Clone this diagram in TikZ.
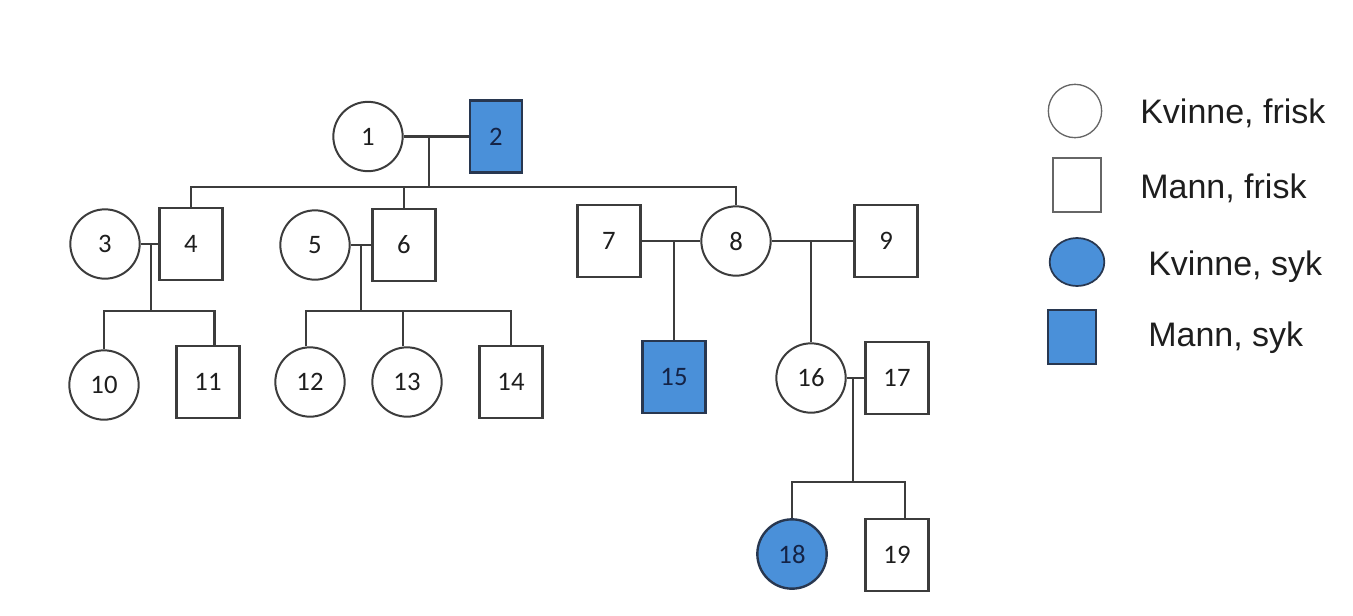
\documentclass[tikz,border=0pt]{standalone}
\usepackage{fontspec}
\setmainfont{Liberation Sans}
\newfontfamily\numfont{Carlito}
\usetikzlibrary{shapes.geometric}
\definecolor{linec}{RGB}{60,60,60}
\definecolor{sickfill}{RGB}{74,144,217}
\definecolor{sickdraw}{RGB}{40,55,80}
\definecolor{sicktext}{RGB}{20,35,70}
\definecolor{txtc}{RGB}{30,30,30}
\begin{document}
\begin{tikzpicture}[x=0.75pt,y=-0.75pt,
  fem/.style={circle, draw=linec, line width=1.5pt, minimum size=52pt, inner sep=0pt, font=\numfont\fontsize{20}{23}\selectfont, text=txtc},
  mal/.style={rectangle, draw=linec, line width=1.8pt, minimum width=47pt, minimum height=54pt, inner sep=0pt, font=\numfont\fontsize{20}{23}\selectfont, text=txtc},
  sick/.style={fill=sickfill, draw=sickdraw, text=sicktext},
  conn/.style={draw=linec, line width=1.8pt},
  legtext/.style={anchor=west, font=\fontsize{25.5}{29}\selectfont, text=txtc, inner sep=0pt}
]
\useasboundingbox (0,0) rectangle (1353,615);

% generation I
\node[fem] (n1) at (368,136.5) {1};
\node[mal, sick, minimum width=39pt] (n2) at (496,136.5) {2};
% generation II
\node[fem] (n3) at (105,244) {3};
\node[mal] (n4) at (191,244) {4};
\node[fem] (n5) at (315,245) {5};
\node[mal] (n6) at (404,245) {6};
\node[mal] (n7) at (609,241) {7};
\node[fem] (n8) at (736,241) {8};
\node[mal] (n9) at (886,241) {9};
% generation III
\node[fem] (n10) at (104,385) {10};
\node[mal] (n11) at (208,382) {11};
\node[fem] (n12) at (310,382) {12};
\node[fem] (n13) at (407,382) {13};
\node[mal] (n14) at (511,382) {14};
\node[mal, sick] (n15) at (674,377) {15};
\node[fem] (n16) at (811,378) {16};
\node[mal] (n17) at (897,378) {17};
% generation IV
\node[fem, sick, line width=1.8pt] (n18) at (792,554) {18};
\node[mal] (n19) at (897,555) {19};

% junctions
\coordinate (j12) at (429,136.5);
\coordinate (s12) at (429,187);
\coordinate (j34) at (151,244);
\coordinate (s34) at (151,311);
\coordinate (j56) at (361,245);
\coordinate (s56) at (361,311);
\coordinate (j78) at (674,241);
\coordinate (j89) at (811,241);
\coordinate (j1617) at (853,378);
\coordinate (s1617) at (853,482);

% family 1-2
\draw[conn] (n1.east) -- (n2.west);
\draw[conn] (j12) -- (s12);
\draw[conn] (n4.north) -- (n4.north |- s12) -- (n8.north |- s12) -- (n8.north);
\draw[conn] (n6.north |- s12) -- (n6.north);
% family 3-4
\draw[conn] (n3.east) -- (n4.west);
\draw[conn] (j34) -- (s34);
\draw[conn] (n10.north) -- (n10.north |- s34) -- ([xshift=5]n11.north |- s34) -- ([xshift=5]n11.north);
% family 5-6
\draw[conn] (n5.east) -- (n6.west);
\draw[conn] (j56) -- (s56);
\draw[conn] ([xshift=-3]n12.north) -- ([xshift=-3]n12.north |- s56) -- (n14.north |- s56) -- (n14.north);
\draw[conn] ([xshift=-3]n13.north |- s56) -- ([xshift=-3]n13.north);
% family 7-8
\draw[conn] (n7.east) -- (n8.west);
\draw[conn] (j78) -- (n15.north);
% family 8-9
\draw[conn] (n8.east) -- (n9.west);
\draw[conn] (j89) -- (n16.north);
% family 16-17
\draw[conn] (n16.east) -- (n17.west);
\draw[conn] (j1617) -- (s1617);
\draw[conn] (n18.north) -- (n18.north |- s1617) -- ([xshift=6]n19.north |- s1617) -- ([xshift=6]n19.north);

% legend
\node[circle, draw=gray!80!black, line width=1pt, minimum size=40pt, inner sep=0pt] (lf) at (1075,111) {};
\node[rectangle, draw=gray!80!black, line width=1.3pt, minimum width=36pt, minimum height=40pt, inner sep=0pt] (lm) at (1077,185) {};
\node[ellipse, fill=sickfill, draw=sickdraw, line width=1.3pt, minimum width=41pt, minimum height=36pt, inner sep=0pt] (lfs) at (1077,262) {};
\node[rectangle, fill=sickfill, draw=sickdraw, line width=1.3pt, minimum width=36pt, minimum height=40pt, inner sep=0pt] (lms) at (1072,337) {};
\node[legtext] (t1) at (1140,113) {Kvinne, frisk};
\node[legtext] (t2) at (1140,188) {Mann, frisk};
\node[legtext] (t3) at (1148,267) {Kvinne, syk};
\node[legtext] (t4) at (1148,338) {Mann, syk};
\end{tikzpicture}
\end{document}
